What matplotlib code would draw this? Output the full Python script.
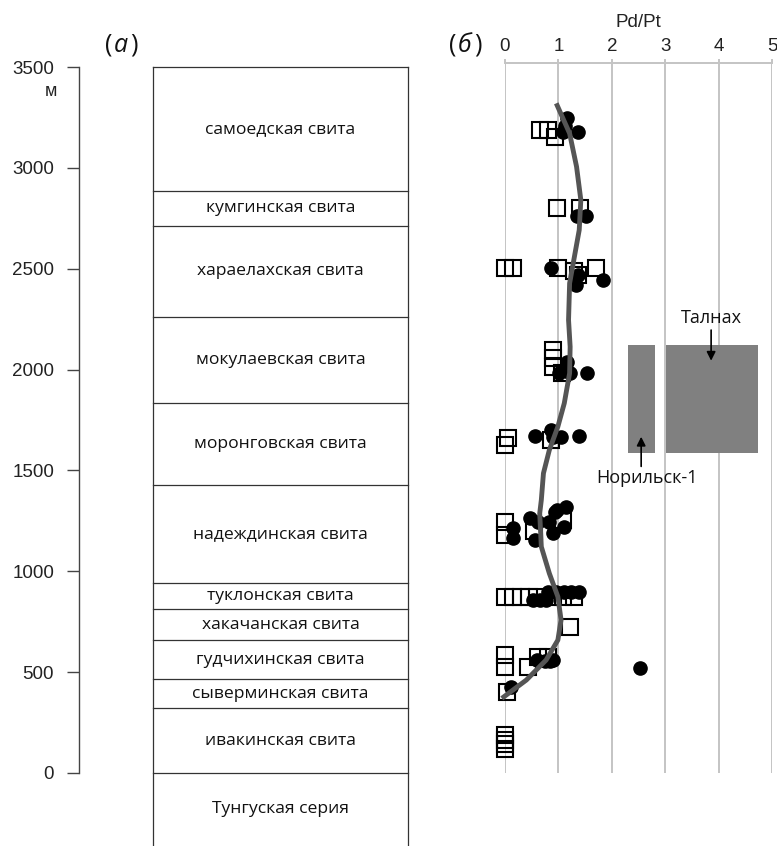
import matplotlib
matplotlib.use("Agg")
import matplotlib.pyplot as plt
from matplotlib.patches import Rectangle

# ---------------- data ----------------
layer_names = ["самоедская свита", "кумгинская свита", "хараелахская свита",
               "мокулаевская свита", "моронговская свита", "надеждинская свита",
               "туклонская свита", "хакачанская свита", "гудчихинская свита",
               "сыверминская свита", "ивакинская свита", "Тунгуская серия"]
layer_bounds = [3500, 2885, 2712, 2261, 1834, 1428, 942, 813, 659, 466, 322, 0, -362]

depth_ticks = [0, 500, 1000, 1500, 2000, 2500, 3000, 3500]
ratio_ticks = [0, 1, 2, 3, 4, 5]

sq_ratio = [0.66, 0.80, 0.93,
            0.98, 1.41,
            0.00, 0.15, 0.99, 1.30, 1.36, 1.71,
            0.89, 0.89, 0.89, 1.06,
            0.06, 0.00, 0.87,
            0.00, 0.00, 0.54, 1.09,
            0.00, 0.15, 0.30, 0.45, 0.60, 0.90, 1.08, 1.30,
            1.22,
            0.00, 0.00, 0.43, 0.62, 0.80,
            0.03,
            0.00, 0.00, 0.00, 0.00]
sq_depth = [3186, 3186, 3155,
            2801, 2801,
            2504, 2504, 2504, 2490, 2470, 2504,
            2097, 2058, 2013, 1983,
            1661, 1626, 1651,
            1244, 1180, 1201, 1254,
            874, 874, 874, 874, 874, 874, 874, 874,
            724,
            585, 527, 527, 577, 577,
            403,
            188, 164, 144, 119]

ci_ratio = [1.17, 1.08, 1.36, 1.12,
            1.35, 1.52,
            0.87, 1.36, 1.33, 1.84,
            1.17, 1.02, 1.21, 1.53,
            0.56, 0.87, 0.89, 1.05, 1.38,
            0.15, 0.15, 0.46, 0.56, 0.62, 0.83, 0.90, 0.93, 1.14, 1.11, 0.98,
            0.80, 0.96, 1.11, 1.24, 1.39, 0.53, 0.65, 0.77,
            0.60, 0.75, 0.85, 0.90,
            2.52,
            0.12]
ci_depth = [3247, 3178, 3178, 3210,
            2762, 2762,
            2505, 2469, 2419, 2444,
            2038, 1983, 1983, 1982,
            1671, 1700, 1667, 1667, 1671,
            1215, 1165, 1264, 1155, 1246, 1246, 1190, 1296, 1320, 1221, 1304,
            899, 899, 899, 899, 899, 858, 858, 858,
            560, 555, 555, 560,
            520,
            428]

curve_ratio = [0.96, 1.21, 1.34, 1.42, 1.39, 1.30, 1.21, 1.19, 1.22, 1.21, 1.11, 0.99,
               0.83, 0.72, 0.68, 0.65, 0.68, 0.83, 0.99, 1.05, 0.99, 0.77, 0.40, -0.06]
curve_depth = [3320, 3171, 3006, 2841, 2692, 2560, 2428, 2246, 2113, 1982, 1833, 1717,
               1601, 1486, 1353, 1287, 1122, 990, 874, 759, 659, 560, 461, 370]

fields = ["Норильск-1", "Талнах"]
field_ratio_min = [2.30, 3.02]
field_ratio_max = [2.80, 4.74]
field_depth_min = [1588, 1588]
field_depth_max = [2122, 2122]
field_label_pos = [(2.65, 1462), (3.86, 2256)]
field_arrow_tail = [(2.55, 1520), (3.86, 2196)]
field_arrow_tip = [(2.55, 1667), (3.86, 2044)]

# ---------------- figure ----------------
W, H = 777, 846
fig = plt.figure(figsize=(W / 100, H / 100), dpi=100)

label_font = ["Open Sans", "DejaVu Sans"]
num_font = ["Liberation Sans", "DejaVu Sans"]

# left panel: stratigraphic column
axl = fig.add_axes([79 / W, 0, 361 / W, (H - 67) / H])
axl.set_ylim(layer_bounds[-1], layer_bounds[0])
axl.set_xlim(0, 1)
for s in ["top", "right", "bottom"]:
    axl.spines[s].set_visible(False)
axl.spines["left"].set_bounds(0, 3500)
axl.spines["left"].set_color("#444444")
axl.spines["left"].set_linewidth(1.0)
axl.set_xticks([])
axl.set_yticks(depth_ticks)
axl.set_yticklabels([str(t) for t in depth_ticks], fontfamily=num_font, fontsize=13.5)
axl.tick_params(axis="y", length=9, width=1.0, color="#444444", pad=9, labelcolor="#222222")

cx0, cx1 = 0.205, 0.911
col_color = "#333333"
axl.plot([cx0, cx0], [layer_bounds[-1], layer_bounds[0]], color=col_color, lw=0.9, clip_on=False)
axl.plot([cx1, cx1], [layer_bounds[-1], layer_bounds[0]], color=col_color, lw=0.9, clip_on=False)
for b in layer_bounds[:-1]:
    axl.plot([cx0, cx1], [b, b], color=col_color, lw=0.9, clip_on=False)
for name, top, bot in zip(layer_names, layer_bounds[:-1], layer_bounds[1:]):
    axl.text((cx0 + cx1) / 2, (top + bot) / 2, name, ha="center", va="center",
             fontsize=12.6, fontfamily=label_font, color="#111111")

fig.text(51 / W, 1 - 92 / H, "м", ha="center", va="center", fontsize=13,
         fontfamily=num_font, color="#222222")


def panel_label(xc, letter):
    y = 1 - 45 / H
    fig.text((xc - 9) / W, y, "(", ha="right", va="center", fontsize=18,
             fontfamily=label_font, color="#111111")
    fig.text(xc / W, y, letter, ha="center", va="center", fontsize=18,
             fontfamily=label_font, style="italic", color="#111111")
    fig.text((xc + 9) / W, y, ")", ha="left", va="center", fontsize=18,
             fontfamily=label_font, color="#111111")


panel_label(121, "а")
panel_label(465, "б")

# right panel: Pd/Pt
axr = fig.add_axes([505 / W, (H - 773) / H, 267 / W, 710 / H])
axr.set_xlim(0, 5)
axr.set_ylim(0, 3520)
for s in ["bottom", "left", "right"]:
    axr.spines[s].set_visible(False)
axr.spines["top"].set_color("#c4c4c4")
axr.spines["top"].set_linewidth(1.4)
axr.set_yticks([])
axr.xaxis.tick_top()
axr.xaxis.set_label_position("top")
axr.set_xticks(ratio_ticks)
axr.set_xticklabels([str(t) for t in ratio_ticks], fontfamily=num_font, fontsize=13.5)
axr.tick_params(axis="x", length=3, width=1.4, color="#c4c4c4", pad=2.5, labelcolor="#222222")
axr.set_xlabel("Pd/Pt", fontfamily=num_font, fontsize=13.5, labelpad=8, color="#222222")
axr.grid(axis="x", color="#c4c4c4", lw=1.4, zorder=0)
axr.set_axisbelow(True)

for i in range(len(fields)):
    axr.add_patch(Rectangle((field_ratio_min[i], field_depth_min[i]),
                            field_ratio_max[i] - field_ratio_min[i],
                            field_depth_max[i] - field_depth_min[i],
                            facecolor="#808080", edgecolor="none", zorder=1))
    axr.text(field_label_pos[i][0], field_label_pos[i][1], fields[i], ha="center",
             va="center", fontsize=13, fontfamily=label_font, color="#111111")
    axr.annotate("", xy=field_arrow_tip[i], xytext=field_arrow_tail[i],
                 arrowprops=dict(arrowstyle="-|>", color="black", lw=1.2,
                                 mutation_scale=13, shrinkA=0, shrinkB=0))

axr.plot(sq_ratio, sq_depth, ls="none", marker="s", ms=11.5, mfc="none", mec="black",
         mew=1.5, zorder=3, clip_on=False)
axr.plot(ci_ratio, ci_depth, ls="none", marker="o", ms=9.5, mfc="black", mec="black",
         zorder=4, clip_on=False)
axr.plot(curve_ratio, curve_depth, color="#555555", lw=3.5, solid_capstyle="butt",
         solid_joinstyle="round", zorder=5, clip_on=False)

fig.savefig("out.png", dpi=100)
